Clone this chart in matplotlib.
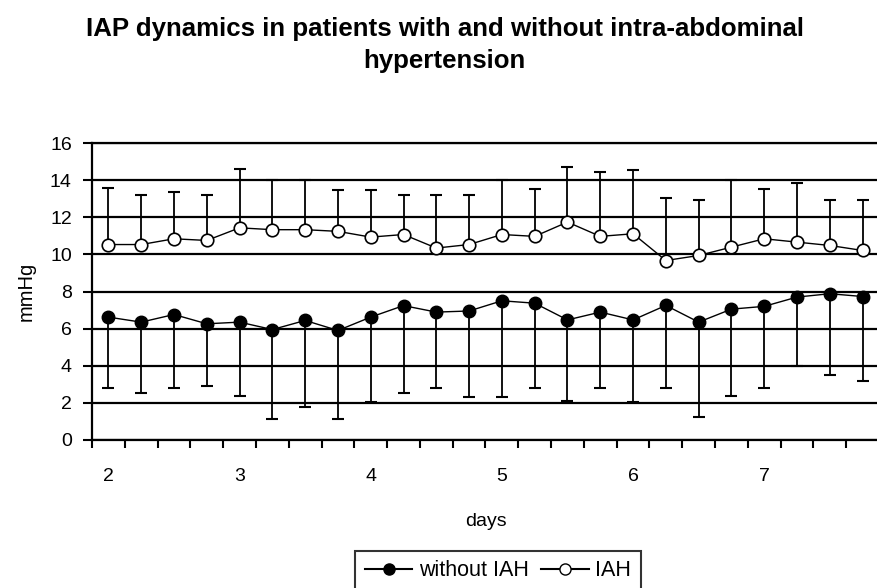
import matplotlib.pyplot as plt
from matplotlib.lines import Line2D

plt.rcParams['font.family'] = ['Liberation Sans', 'DejaVu Sans']

# 4 Messungen pro Tag, Tage 2..7 (24 Zeitpunkte)
dager = ['2', '3', '4', '5', '6', '7']

uten_iah = [6.62, 6.35, 6.76, 6.26, 6.35, 5.95, 6.44, 5.90, 6.62, 7.24, 6.89, 6.95,
            7.50, 7.37, 6.47, 6.89, 6.47, 7.25, 6.35, 7.05, 7.20, 7.70, 7.88, 7.73]
uten_iah_nedre = [2.79, 2.52, 2.79, 2.89, 2.39, 1.13, 1.76, 1.13, 2.07, 2.52, 2.79, 2.30,
                  2.30, 2.79, 2.12, 2.79, 2.03, 2.79, 1.26, 2.39, 2.79, 3.96, 3.52, 3.16]

iah = [10.53, 10.53, 10.84, 10.75, 11.43, 11.33, 11.33, 11.24, 10.93, 11.07, 10.34, 10.53,
       11.07, 10.97, 11.74, 10.97, 11.11, 9.67, 9.94, 10.39, 10.84, 10.66, 10.48, 10.21]
iah_ovre = [13.57, 13.21, 13.36, 13.21, 14.62, 14.0, 14.0, 13.45, 13.45, 13.21, 13.18, 13.18,
            14.02, 13.54, 14.71, 14.44, 14.56, 13.03, 12.91, 13.99, 13.54, 13.84, 12.91, 12.91]

x = list(range(len(iah)))

fig = plt.figure(figsize=(8.77, 5.88), dpi=100)
ax = fig.add_axes([92 / 877, 148 / 588, 787 / 877, 297 / 588])

# horisontale rutenett
ax.set_ylim(0, 16)
ax.set_yticks(range(0, 17, 2))
ax.grid(axis='y', color='black', linewidth=1.6)
ax.set_axisbelow(True)

# feilstolper (ensidige)
ned = [m - l for m, l in zip(uten_iah, uten_iah_nedre)]
opp = [u - m for m, u in zip(iah, iah_ovre)]
null = [0] * len(x)

ax.errorbar(x, uten_iah, yerr=[ned, null], fmt='none', ecolor='black',
            elinewidth=1.3, capsize=4, capthick=1.5, zorder=3)
ax.errorbar(x, iah, yerr=[null, opp], fmt='none', ecolor='black',
            elinewidth=1.3, capsize=4, capthick=1.5, zorder=3)

ax.plot(x, uten_iah, color='black', linewidth=1, marker='o', markersize=9,
        markerfacecolor='black', markeredgecolor='black', zorder=4)
ax.plot(x, iah, color='black', linewidth=1, marker='o', markersize=9,
        markerfacecolor='white', markeredgecolor='black', markeredgewidth=1.2, zorder=4)

ax.set_xlim(-0.5, len(x) - 0.5)
ax.set_xticks(range(0, len(x), 4))
ax.set_xticklabels(dager, fontsize=14)
ax.set_xticks([i - 0.5 for i in range(len(x) + 1)], minor=True)
ax.tick_params(axis='x', which='major', length=0, pad=20)
ax.tick_params(axis='x', which='minor', length=6, width=1.5, direction='out')
ax.tick_params(axis='y', length=6.5, width=1.5, labelsize=14, pad=8)

ax.spines['right'].set_visible(False)
for s in ['left', 'bottom', 'top']:
    ax.spines[s].set_linewidth(1.6)

ax.set_xlabel('days', fontsize=14, labelpad=20)
ax.set_ylabel('mmHg', fontsize=14.5, labelpad=10)

fig.text(0.507, 1 - 29 / 588, 'IAP dynamics in patients with and without intra-abdominal',
         ha='center', va='center', fontsize=18.6, fontweight='bold')
fig.text(0.507, 1 - 61 / 588, 'hypertension', ha='center', va='center',
         fontsize=18.6, fontweight='bold')

h1 = Line2D([], [], color='black', marker='o', markersize=8, markerfacecolor='black')
h2 = Line2D([], [], color='black', marker='o', markersize=8, markerfacecolor='white')
leg = fig.legend([h1, h2], ['without IAH', 'IAH'], ncol=2, loc='center',
                 bbox_to_anchor=(498 / 877, 1 - 571 / 588), fontsize=15.5, frameon=True,
                 fancybox=False, edgecolor='black', handlelength=2.2, columnspacing=0.6,
                 handletextpad=0.3, borderpad=0.45, borderaxespad=0)
leg.get_frame().set_linewidth(1.5)

fig.savefig('out.png', dpi=100)
